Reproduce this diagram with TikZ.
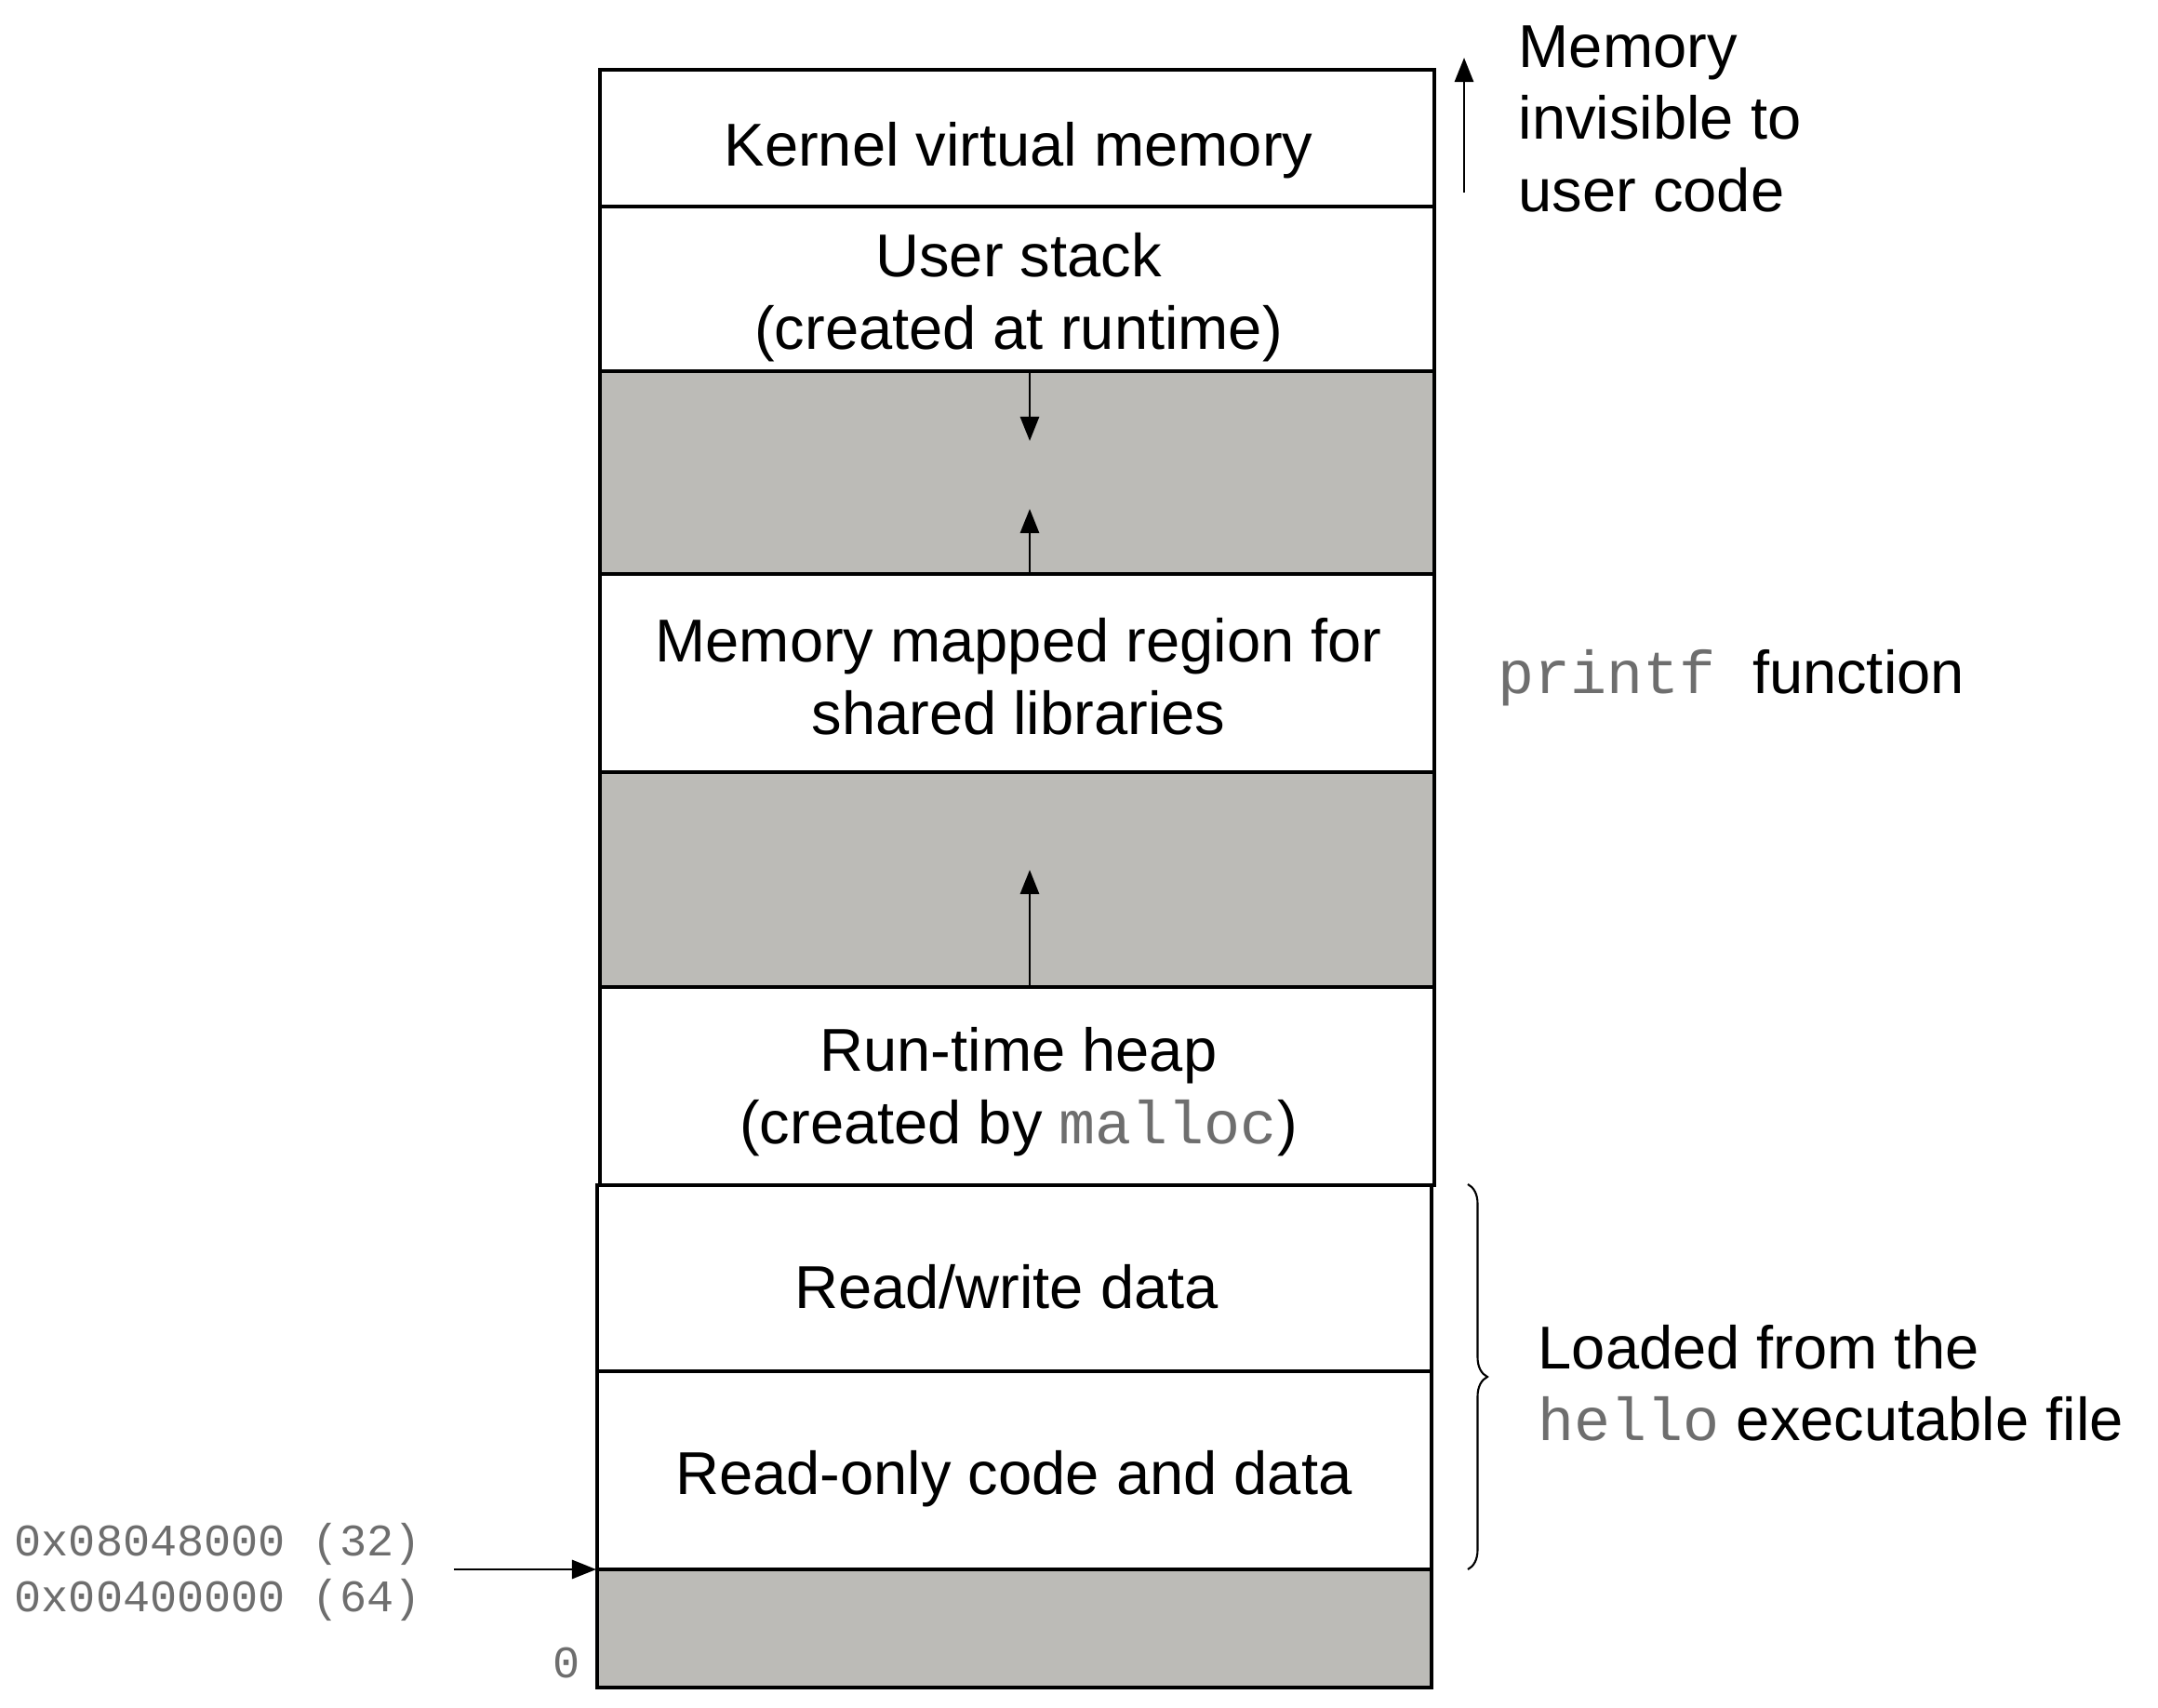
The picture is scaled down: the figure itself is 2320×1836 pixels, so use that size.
\documentclass[tikz,border=0pt]{standalone}
\usepackage{fontspec}
\setmainfont{Liberation Sans}
\setmonofont{Liberation Mono}
\usetikzlibrary{arrows.meta,decorations.pathreplacing}
\definecolor{gapgray}{RGB}{188,187,183}
\definecolor{codegray}{RGB}{110,110,110}
\newcommand{\cd}[1]{{\color{codegray}\ttfamily #1}}
\begin{document}
\begin{tikzpicture}[x=0.01cm,y=-0.01cm,
  seg/.style={draw=black,line width=1pt,fill=white},
  gapseg/.style={draw=black,line width=1pt,fill=gapgray},
  lbl/.style={font=\fontsize{18.5}{21.9}\selectfont,align=center,inner sep=0pt,anchor=base},
  note/.style={font=\fontsize{18.5}{21.9}\selectfont,align=left,inner sep=0pt,anchor=base west},
  addr/.style={font=\fontsize{13.8}{16.8}\selectfont\ttfamily,text=codegray,align=left,inner sep=0pt},
  arr/.style={line width=0.8pt,-{Triangle[length=0.26cm,width=0.2cm]}},
  bracestyle/.style={line width=0.6pt,decorate,decoration={brace,amplitude=0.21cm}}]

\fill[white] (0,0) rectangle (2320,1836);
\useasboundingbox (0,0) rectangle (2320,1836);

% upper segments
\draw[seg] (645,75) rectangle (1542,222);
\draw[seg] (645,222) rectangle (1542,399);
\draw[gapseg] (645,399) rectangle (1542,617);
\draw[seg] (645,617) rectangle (1542,830);
\draw[gapseg] (645,830) rectangle (1542,1061);
\draw[seg] (645,1061) rectangle (1542,1274);
% lower segments
\draw[seg] (642,1274) rectangle (1539,1474);
\draw[seg] (642,1474) rectangle (1539,1687);
\draw[gapseg] (642,1687) rectangle (1539,1814);

% labels inside (base = baseline of last line)
\node[lbl] (kvm) at (1095,178) {Kernel virtual memory};
\node[lbl] (ustk) at (1095,375) {User stack\\(created at runtime)};
\node[lbl] (mmap) at (1095,789) {Memory mapped region for\\shared libraries};
\node[lbl] (heap) at (1095,1229) {Run-time heap\\(created by \cd{malloc})};
\node[lbl] (rw) at (1082,1406) {Read/write data};
\node[lbl] (ro) at (1090,1606) {Read-only code and data};

% side notes
\node[note] (inv) at (1632,227) {Memory\\invisible to\\user code};
\node[note] (pf) at (1610,745) {\cd{printf }function};
\node[note] (load) at (1653,1548) {Loaded from the\\\cd{hello} executable file};

\node[addr,anchor=base west] (addr) at (15,1732) {0x08048000 (32)\\0x00400000 (64)};
\node[addr,anchor=base] (zero) at (609,1803) {0};

% connector coordinates
\coordinate (g1top) at (1107,399);
\coordinate (g1down) at (1107,474);
\coordinate (g1bot) at (1107,617);
\coordinate (g1up) at (1107,547);
\coordinate (g2bot) at (1107,1061);
\coordinate (g2up) at (1107,935);
\coordinate (kb) at (1574,207);
\coordinate (kt) at (1574,62);
\coordinate (as) at (488,1687);
\coordinate (ae) at (641,1687);
\coordinate (bt) at (1578,1273);
\coordinate (bb) at (1578,1687);

\draw[arr] (g1top) -- (g1down);
\draw[arr] (g1bot) -- (g1up);
\draw[arr] (g2bot) -- (g2up);
\draw[arr] (kb) -- (kt);
\draw[arr] (as) -- (ae);
\draw[bracestyle] (bt) -- (bb);
\end{tikzpicture}
\end{document}
